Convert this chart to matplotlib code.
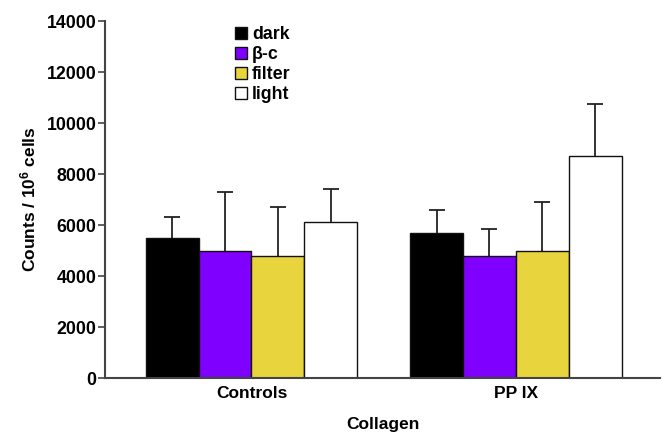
import matplotlib
matplotlib.use('Agg')
import matplotlib.pyplot as plt
from matplotlib.patches import Patch
import numpy as np

# Data
groups = ['Controls', 'PP IX']
series = ['dark', 'β-c', 'filter', 'light']
colors = ['#000000', '#8000ff', '#e8d43c', '#ffffff']
dark = [5500, 5700]
beta_c = [5000, 4800]
filt = [4800, 5000]
light = [6100, 8700]
dark_err = [800, 880]
beta_c_err = [2300, 1060]
filt_err = [1900, 1900]
light_err = [1300, 2060]

values = [dark, beta_c, filt, light]
errors = [dark_err, beta_c_err, filt_err, light_err]

plt.rcParams['font.family'] = ['Liberation Sans', 'DejaVu Sans']
plt.rcParams['font.weight'] = 'bold'
plt.rcParams['mathtext.fontset'] = 'custom'
plt.rcParams['mathtext.rm'] = 'Liberation Sans:bold'
plt.rcParams['mathtext.default'] = 'rm'

fig = plt.figure(figsize=(6.63, 4.33), dpi=100)
ax = fig.add_axes([0.1584, 0.127, 0.837, 0.8245])

x = np.arange(len(groups))
width = 0.2
axis_col = '#444444'
for i, (vals, errs) in enumerate(zip(values, errors)):
    pos = x + (i - 1.5) * width
    ax.bar(pos, vals, width, color=colors[i], edgecolor='#111111', linewidth=1.0, zorder=3)
    # symmetric bars drawn behind the bars, so only the upper half shows
    ax.errorbar(pos, vals, yerr=errs, fmt='none',
                ecolor='#222222', elinewidth=1.3, capsize=6, capthick=1.3, zorder=1)

ax.set_xlim(-0.554, 1.545)
ax.set_ylim(0, 14000)
ax.set_yticks(np.arange(0, 14001, 2000))
ax.set_xticks(x)
ax.set_xticklabels(groups, fontsize=12.5, fontweight='bold')
ax.tick_params(axis='x', length=0, pad=6)
ax.tick_params(axis='y', labelsize=12.8, direction='out', length=5, width=1.2, color=axis_col, pad=1)
for lab in ax.get_yticklabels():
    lab.set_fontweight('bold')

for s in ['top', 'right']:
    ax.spines[s].set_visible(False)
for s in ['left', 'bottom']:
    ax.spines[s].set_color(axis_col)
    ax.spines[s].set_linewidth(1.5)
    ax.spines[s].set_zorder(4)

ax.set_xlabel('Collagen', fontsize=12.5, fontweight='bold', labelpad=11)
ax.set_ylabel('Counts / 10$^{6}$ cells', fontsize=12.5, fontweight='bold', labelpad=6)

handles = [Patch(facecolor=c, edgecolor='#111111', linewidth=1.0) for c in colors]
fig.legend(handles, series, loc='upper left', bbox_to_anchor=(235 / 663, 1 - 26 / 433),
           bbox_transform=fig.transFigure, frameon=False,
           handlelength=0.7, handleheight=0.7, handletextpad=0.25, labelspacing=0.17,
           borderpad=0, borderaxespad=0, prop={'weight': 'bold', 'size': 12.8})

fig.savefig('out.png', dpi=100)
